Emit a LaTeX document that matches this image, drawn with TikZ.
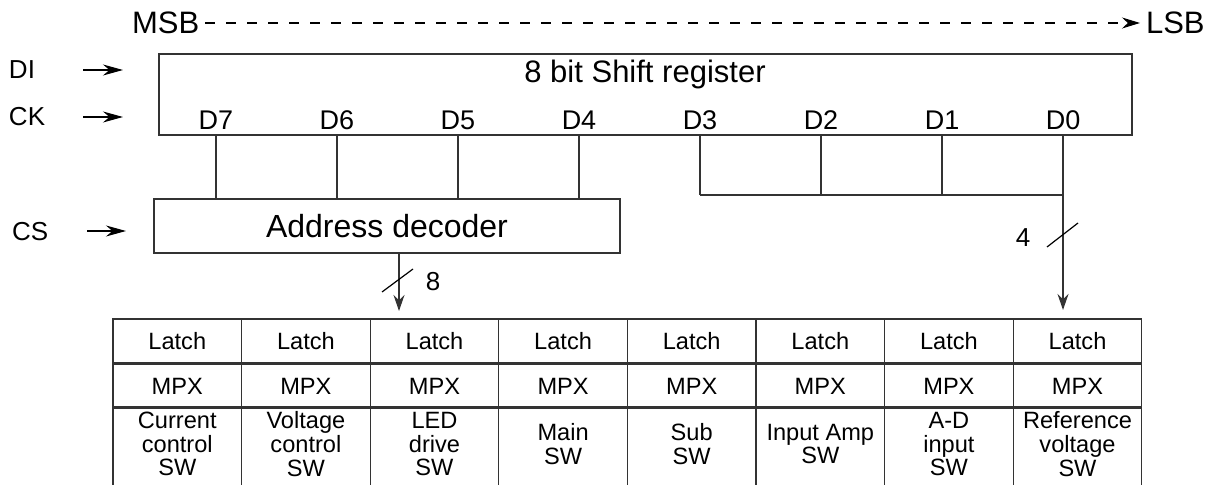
\documentclass[tikz,border=0pt]{standalone}
\usepackage{fontspec}
\setmainfont{Liberation Sans}
\usetikzlibrary{arrows.meta}

\begin{document}
\begin{tikzpicture}[x=0.5pt, y=-0.5pt, line width=0.6pt, draw=black!80,
  every node/.style={inner sep=0pt, outer sep=0pt},
  box/.style={draw=black!80, line width=0.7pt},
  cell/.style={draw=black!80, line width=0.6pt, minimum width=64.3pt, minimum height=22pt},
  celltext/.style={align=center, font=\fontsize{11.8}{11.8}\selectfont},
  pin/.style={anchor=west, font=\fontsize{13}{15}\selectfont},
  bit/.style={font=\fontsize{13.5}{15}\selectfont},
  sig/.style={-{Stealth[length=10pt, width=5.5pt]}, draw=black},
  drop/.style={-{Stealth[length=8pt, width=5.5pt]}, draw=black!80}]
  \useasboundingbox (0,0) rectangle (1209,485);

  % Nodes
  \node[anchor=west, font=\fontsize{15.5}{18}\selectfont] (msb) at (132,23) {MSB};
  \node[anchor=west, font=\fontsize{15.5}{18}\selectfont] (lsb) at (1146,23) {LSB};
  \node[pin] (di) at (9,70) {DI};
  \node[pin] (ck) at (9,117) {CK};
  \node[pin] (cs) at (12,232) {CS};

  \node[box, minimum width=486.5pt, minimum height=40.5pt] (sr) at (645.5,94.5) {};
  \node[font=\fontsize{15.5}{18}\selectfont] (srtitle) at (645,74) {8 bit Shift register};
  \foreach \b in {0,...,7}
    \node[bit] (d\b) at ({1063-121*\b},120) {D\b};

  \node[box, minimum width=233pt, minimum height=27pt,
        font=\fontsize{16}{18}\selectfont] (dec) at (387,226) {Address decoder};

  \foreach \t [count=\i] in {{Current\\control\\SW}, {Voltage\\control\\SW},
      {LED\\drive\\SW}, {Main\\SW}, {Sub\\SW}, {Input Amp\\SW},
      {A-D\\input\\SW}, {Reference\\voltage\\SW}} {
    \node[cell, celltext, font=\fontsize{11.8}{13}\selectfont] (latch\i) at ({113+128.6*(\i-0.5)},341) {Latch};
    \node[cell, celltext] (mpx\i) at ({113+128.6*(\i-0.5)},386) {MPX};
    \node[cell, minimum height=44pt] (sw\i) at ({113+128.6*(\i-0.5)},451) {};
    \node[celltext] (swt\i) at ({113+128.6*(\i-0.5)},444) {\t};
  }

  \node[font=\fontsize{13}{15}\selectfont] (n8) at (433,282) {8};
  \node[font=\fontsize{13}{15}\selectfont] (n4) at (1023,238) {4};

  \coordinate (di-a) at (83,70);  \coordinate (di-b) at (123,70);
  \coordinate (ck-a) at (83,117); \coordinate (ck-b) at (123,117);
  \coordinate (cs-a) at (87,231); \coordinate (cs-b) at (126,231);
  \coordinate (bus) at (d0 |- 0,195);
  \coordinate (m8) at (398,281);
  \coordinate (m4) at (1062,235);

  % Edges
  \draw[dashed, dash pattern=on 5pt off 5.5pt, -{Stealth[length=9pt, width=5.5pt]}, draw=black]
    ([xshift=3pt]msb.east) -- ([xshift=-3pt]lsb.west);
  \draw[sig] (di-a) -- (di-b);
  \draw[sig] (ck-a) -- (ck-b);
  \draw[sig] (cs-a) -- (cs-b);

  \foreach \b in {7,6,5,4}
    \draw (d\b |- sr.south) -- (d\b |- dec.north);
  \foreach \b in {3,2,1}
    \draw (d\b |- sr.south) -- (d\b |- bus);
  \draw (d3 |- bus) -- (bus);
  \draw[drop, shorten >=4.5pt] (d0 |- sr.south) -- (d0 |- latch8.north);
  \draw[drop, shorten >=4pt] ([xshift=6pt]dec.south) -- ([xshift=6pt]dec.south |- latch3.north);

  \draw[draw=black] ([shift={(-16,11)}]m8) -- ([shift={(15,-12)}]m8);
  \draw[draw=black] ([shift={(-15,12)}]m4) -- ([shift={(16,-12)}]m4);
\end{tikzpicture}
\end{document}
